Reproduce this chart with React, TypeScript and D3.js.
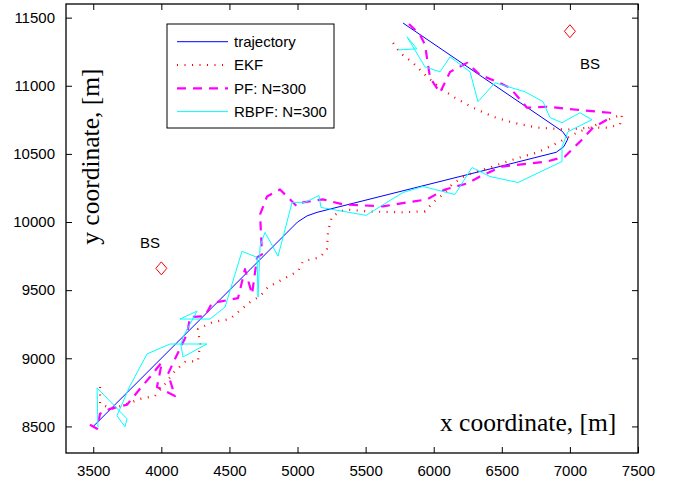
import React, { useEffect, useRef } from "react";
import * as d3 from "d3";

// tracking results, positions in metres
const trajectory: [number, number][] = [
  [3500, 8500], [5000, 10000], [5070, 10045], [5143, 10071], [6340, 10371],
  [6900, 10512], [6956, 10554], [6985, 10610], [6945, 10665], [5775, 11460],
];

const ekf: [number, number][] = [
  [3550, 8790], [3550, 8666], [3638, 8629], [3733, 8659], [3843, 8702], [3954, 8724],
  [4027, 8812], [4100, 8907], [4174, 8973], [4269, 8980], [4284, 9105], [4269, 9215],
  [4379, 9266], [4504, 9288], [4563, 9339], [4651, 9412], [4725, 9456], [4783, 9522],
  [4893, 9581], [5004, 9639], [5040, 9712], [5165, 9741], [5216, 9800], [5224, 9932],
  [5253, 10041], [5349, 10093], [5518, 10078], [5753, 10071], [5936, 10078], [5995, 10144],
  [6068, 10202], [6134, 10276], [6208, 10327], [6289, 10363], [6413, 10400], [6538, 10444],
  [6656, 10481], [6759, 10510], [6854, 10554], [6927, 10590], [7052, 10656], [7199, 10715],
  [7317, 10766], [7383, 10788], [7368, 10715], [7273, 10693], [7148, 10693], [6979, 10678],
  [6759, 10693], [6582, 10729], [6435, 10773], [6289, 10839], [6156, 10912], [6046, 10985],
  [5951, 11066], [5848, 11168], [5753, 11241], [5701, 11315],
];

const pf: [number, number][] = [
  [3476, 8512], [3528, 8483], [3550, 8593], [3623, 8629], [3748, 8659], [3843, 8776],
  [3917, 8863], [4005, 8973], [3968, 8790], [4100, 8724], [4049, 8885], [4100, 8995],
  [4189, 9178], [4211, 9302], [4321, 9310], [4372, 9405], [4563, 9441], [4614, 9654],
  [4666, 9471], [4703, 9741], [4739, 9763], [4725, 10056], [4776, 10188], [4871, 10239],
  [4996, 10115], [5040, 10144], [5187, 10166], [5334, 10129], [5628, 10115], [5804, 10144],
  [5951, 10166], [6083, 10239], [6245, 10283], [6340, 10334], [6502, 10407], [6832, 10444],
  [6964, 10481], [7074, 10590], [7170, 10693], [7273, 10751], [7295, 10802], [7199, 10810],
  [7052, 10824], [6832, 10846], [6685, 10839], [6560, 10985], [6465, 11029], [6340, 11080],
  [6245, 11168], [6120, 11102], [6046, 10949], [5973, 11059], [5936, 11300], [5900, 11373],
  [5804, 11468],
];

const rbpf: [number, number][] = [
  [3535, 8490], [3528, 8783], [3748, 8556], [3733, 8498], [3674, 8578], [3770, 8798],
  [3895, 9032], [4064, 9105], [4335, 9105], [4159, 9010], [4144, 9098], [4159, 9156],
  [4262, 9346], [4137, 9288], [4357, 9288], [4468, 9376], [4592, 9785], [4703, 9741],
  [4710, 9449], [4725, 9822], [4761, 9924], [4857, 9749], [4960, 10144], [5055, 10144],
  [5158, 10195], [5172, 10107], [5503, 10049], [5775, 10217], [5921, 10261], [6156, 10202],
  [6281, 10400], [6413, 10334], [6619, 10290], [6942, 10444], [6942, 10554], [6986, 10663],
  [7162, 10751], [7074, 10802], [6942, 10729], [6854, 10766], [6803, 10883], [6670, 10956],
  [6450, 11022], [6325, 10883], [6267, 11102], [6120, 11212], [6046, 11102], [5936, 11139],
  [5804, 11359], [5877, 11271], [5738, 11263],
];

// base stations
const bsX = [4000, 7000];
const bsY = [9660, 11400];
const bsLabelX = [3917, 7148];
const bsLabelY = [9807, 11124];

const xTicks = [3500, 4000, 4500, 5000, 5500, 6000, 6500, 7000, 7500];
const yTicks = [8500, 9000, 9500, 10000, 10500, 11000, 11500];

const legendNames = ["trajectory", "EKF", "PF: N=300", "RBPF: N=300"];

export default function App() {
  const ref = useRef<SVGSVGElement>(null);

  useEffect(() => {
    const width = 678;
    const height = 481;
    const margin = { top: 4, right: 40, bottom: 28, left: 66 };
    const sans = "'Liberation Sans', Arial, sans-serif";
    const serif = "'Liberation Serif', 'Times New Roman', serif";

    const svg = d3.select(ref.current);
    svg.selectAll("*").remove();

    const x = d3.scaleLinear().domain([3300, 7500]).range([margin.left, width - margin.right]);
    const y = d3.scaleLinear().domain([8305, 11600]).range([height - margin.bottom, margin.top]);

    const line = d3.line<[number, number]>()
      .x(d => x(d[0]))
      .y(d => y(d[1]));

    // series, same order as legend
    const series = [
      { data: trajectory, color: "#0000ff", width: 1, dash: null },
      { data: ekf, color: "#ff0000", width: 2.2, dash: "1,6.5" },
      { data: pf, color: "#ff00ff", width: 2.2, dash: "9,7" },
      { data: rbpf, color: "#00ffff", width: 1, dash: null },
    ];

    series.forEach(s => {
      svg.append("path")
        .attr("d", line(s.data))
        .attr("fill", "none")
        .attr("stroke", s.color)
        .attr("stroke-width", s.width)
        .attr("stroke-dasharray", s.dash)
        .attr("stroke-linejoin", "round");
    });

    // base station diamonds + labels
    bsX.forEach((bx, i) => {
      const cx = x(bx), cy = y(bsY[i]);
      svg.append("path")
        .attr("d", `M${cx},${cy - 6.5}L${cx + 5.5},${cy}L${cx},${cy + 6.5}L${cx - 5.5},${cy}Z`)
        .attr("fill", "none")
        .attr("stroke", "#ff0000")
        .attr("stroke-width", 1);
      svg.append("text")
        .attr("x", x(bsLabelX[i]))
        .attr("y", y(bsLabelY[i]))
        .attr("text-anchor", "middle")
        .style("font-family", sans)
        .style("font-size", "15px")
        .text("BS");
    });

    // axes, ticks pointing inward on all four sides
    const fmt = d3.format("d");
    const bottom = svg.append("g")
      .attr("transform", `translate(0, ${height - margin.bottom})`)
      .call(d3.axisBottom(x).tickValues(xTicks).tickSize(-6).tickPadding(12).tickFormat(fmt));
    const left = svg.append("g")
      .attr("transform", `translate(${margin.left}, 0)`)
      .call(d3.axisLeft(y).tickValues(yTicks).tickSize(-6).tickPadding(11).tickFormat(fmt));
    svg.append("g")
      .attr("transform", `translate(0, ${margin.top})`)
      .call(d3.axisTop(x).tickValues(xTicks).tickSize(-6).tickFormat(() => ""));
    svg.append("g")
      .attr("transform", `translate(${width - margin.right}, 0)`)
      .call(d3.axisRight(y).tickValues(yTicks).tickSize(-6).tickFormat(() => ""));

    svg.selectAll(".domain").remove();
    svg.selectAll(".tick line").attr("stroke", "#000");
    [bottom, left].forEach(g => g.selectAll("text")
      .style("font-family", sans)
      .style("font-size", "15px")
      .attr("fill", "#000"));

    svg.append("rect")
      .attr("x", margin.left)
      .attr("y", margin.top)
      .attr("width", width - margin.left - margin.right)
      .attr("height", height - margin.top - margin.bottom)
      .attr("fill", "none")
      .attr("stroke", "#000")
      .attr("stroke-width", 1.3);

    // axis labels sit inside the plot, as text objects
    svg.append("text")
      .attr("x", x(6046))
      .attr("y", y(8468))
      .style("font-family", serif)
      .style("font-size", "25.5px")
      .text("x coordinate, [m]");

    svg.append("text")
      .attr("transform", `translate(${x(3542)}, ${y(10480)}) rotate(-90)`)
      .attr("text-anchor", "middle")
      .style("font-family", serif)
      .style("font-size", "25.5px")
      .text("y coordinate, [m]");

    // legend
    const lg = svg.append("g");
    lg.append("rect")
      .attr("x", 167).attr("y", 24)
      .attr("width", 167).attr("height", 104)
      .attr("fill", "#fff")
      .attr("stroke", "#000")
      .attr("stroke-width", 1);
    series.forEach((s, i) => {
      const ly = 41.7 + i * 23.3;
      lg.append("line")
        .attr("x1", 177).attr("x2", 228)
        .attr("y1", ly).attr("y2", ly)
        .attr("stroke", s.color)
        .attr("stroke-width", s.width)
        .attr("stroke-dasharray", s.dash);
      lg.append("text")
        .attr("x", 234).attr("y", ly)
        .attr("dy", "0.35em")
        .style("font-family", sans)
        .style("font-size", "15px")
        .text(legendNames[i]);
    });
  }, []);

  return (
    <svg ref={ref} width={678} height={481}
      style={{ position: "absolute", left: 0, top: 0, background: "#fff" }} />
  );
}
